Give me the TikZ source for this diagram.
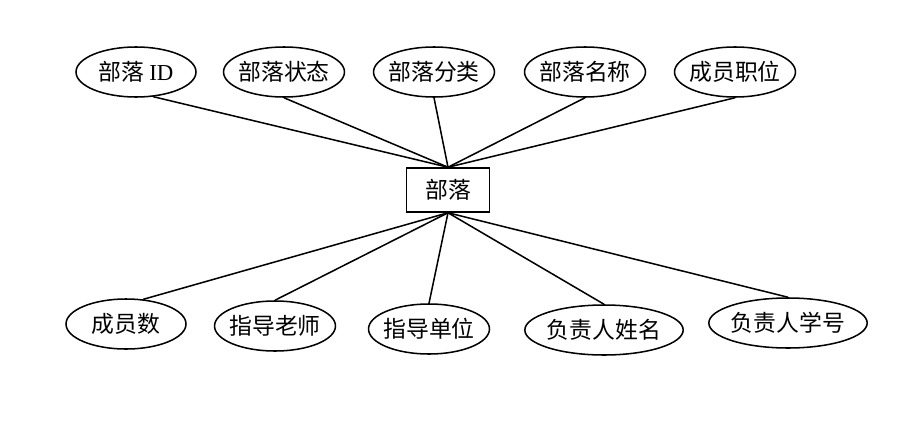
\documentclass[tikz,border=0pt]{standalone}
\usepackage{fontspec}
\setmainfont{Liberation Serif}
\newfontfamily\cjk{Noto Sans CJK SC}
\usetikzlibrary{shapes.geometric}

\begin{document}
\begin{tikzpicture}[x=0.03cm, y=-0.03cm, line width=1.3pt,
    every node/.style={font=\cjk\fontsize{19.5}{22}\selectfont},
    attr/.style={draw, ellipse, inner xsep=-2.5pt, inner ysep=0pt, minimum width=3.6cm, minimum height=1.5cm},
    wideattr/.style={attr, minimum width=4.75cm},
    entity/.style={draw, rectangle, minimum width=2.5cm, minimum height=1.32cm}]
\useasboundingbox (0,0) rectangle (908,424);

% the entity
\node[entity] (tribe) at (448,190) {部落};

% attributes on top
\node[attr] (id)    at (136,72) {部落 {\rmfamily ID}};
\node[attr] (state) at (284,72) {部落状态};
\node[attr] (kind)  at (434,72) {部落分类};
\node[attr] (name)  at (585,72) {部落名称};
\node[attr] (post)  at (735,72) {成员职位};

% attributes below
\node[attr]     (count)   at (126,324) {成员数};
\node[attr]     (teacher) at (275,326) {指导老师};
\node[attr]     (unit)    at (429,329) {指导单位};
\node[wideattr] (head)    at (604,330) {负责人姓名};
\node[wideattr] (headno)  at (788,323) {负责人学号};

% edges to the entity
\draw (id.-55) -- (tribe.north);
\foreach \a in {state,kind,name,post} {
    \draw (\a.south) -- (tribe.north);
}
\draw (count.55) -- (tribe.south);
\foreach \a in {teacher,unit,head,headno} {
    \draw (\a.north) -- (tribe.south);
}
\end{tikzpicture}
\end{document}
